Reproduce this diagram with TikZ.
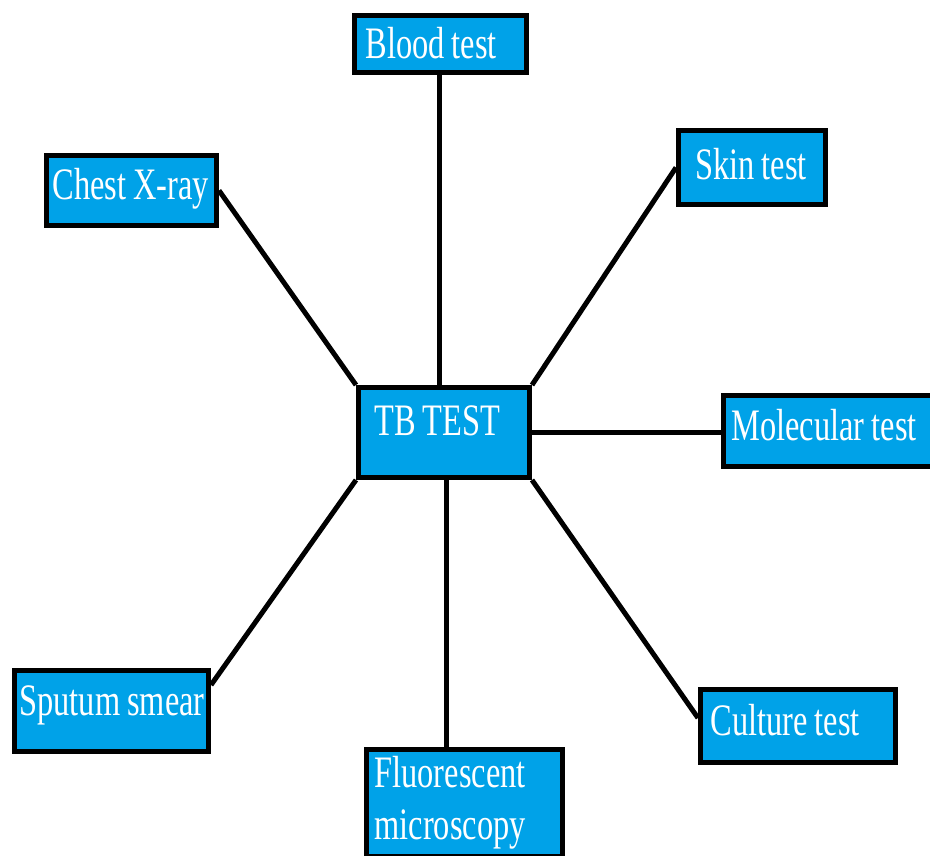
\documentclass[tikz,border=0pt]{standalone}
\usepackage{fontspec}
\newfontfamily\boxfont[FakeStretch=0.72]{Liberation Serif}
\definecolor{tbblue}{RGB}{0,162,232}
\newcommand{\padtxt}[2]{\hspace*{#1pt}\mbox{#2}}
\newcommand{\wsp}{\hspace{7pt}}
\tikzset{
  tbbox/.style={draw=black, line width=5pt, fill=tbblue, text=white,
    font=\boxfont\fontsize{45}{52}\selectfont, align=left, anchor=north west,
    inner xsep=0pt, inner ysep=0pt},
  oneline/.style={text height=30pt, text depth=#1},
  link/.style={draw=black, line width=5pt}
}
\begin{document}
\begin{tikzpicture}[x=1pt,y=-1pt]
\useasboundingbox (0,0) rectangle (930,856);
\clip (0,0) rectangle (930,856);
\fill[white] (0,0) rectangle (930,856);
\node[tbbox, oneline=0pt, text width=172pt, minimum height=57pt] (blood) at (352,13) {\padtxt{11}{Blood\wsp test}};
\node[tbbox, oneline=12pt, text width=170pt, minimum height=70pt] (chest) at (44,153) {\padtxt{6}{Chest\wsp X-ray}};
\node[tbbox, oneline=6pt, text width=147pt, minimum height=74pt] (skin) at (676,128) {\padtxt{17}{Skin\wsp test}};
\node[tbbox, oneline=24pt, text width=171pt, minimum height=90pt] (tb) at (356,385) {\padtxt{16}{TB\wsp TEST}};
\node[tbbox, oneline=11pt, text width=240pt, minimum height=71pt] (mol) at (721,393) {\padtxt{8}{Molecular\wsp test}};
\node[tbbox, oneline=21pt, text width=194pt, minimum height=81pt] (sput) at (12,668) {\padtxt{5}{Sputum\wsp smear}};
\node[tbbox, text width=196pt, minimum height=107pt] (fluor) at (364,747) {\padtxt{8}{Fluorescent}\\\padtxt{8}{microscopy}};
\node[tbbox, oneline=11pt, text width=195pt, minimum height=73pt] (cult) at (698,687) {\padtxt{10}{Culture\wsp test}};
\draw[link] ([xshift=-1pt]blood.south) -- ([xshift=-1pt]blood.south |- tb.north);
\draw[link] (chest.east) -- (tb.north west);
\draw[link] (skin.west) -- (tb.north east);
\draw[link] (tb.east) -- (tb.east -| mol.west);
\draw[link] (tb.south west) -- ([yshift=-17pt]sput.north east);
\draw[link] ([xshift=2pt]tb.south) -- ([xshift=2pt]tb.south |- fluor.north);
\draw[link] (tb.south east) -- ([yshift=8pt]cult.west);
\end{tikzpicture}
\end{document}
